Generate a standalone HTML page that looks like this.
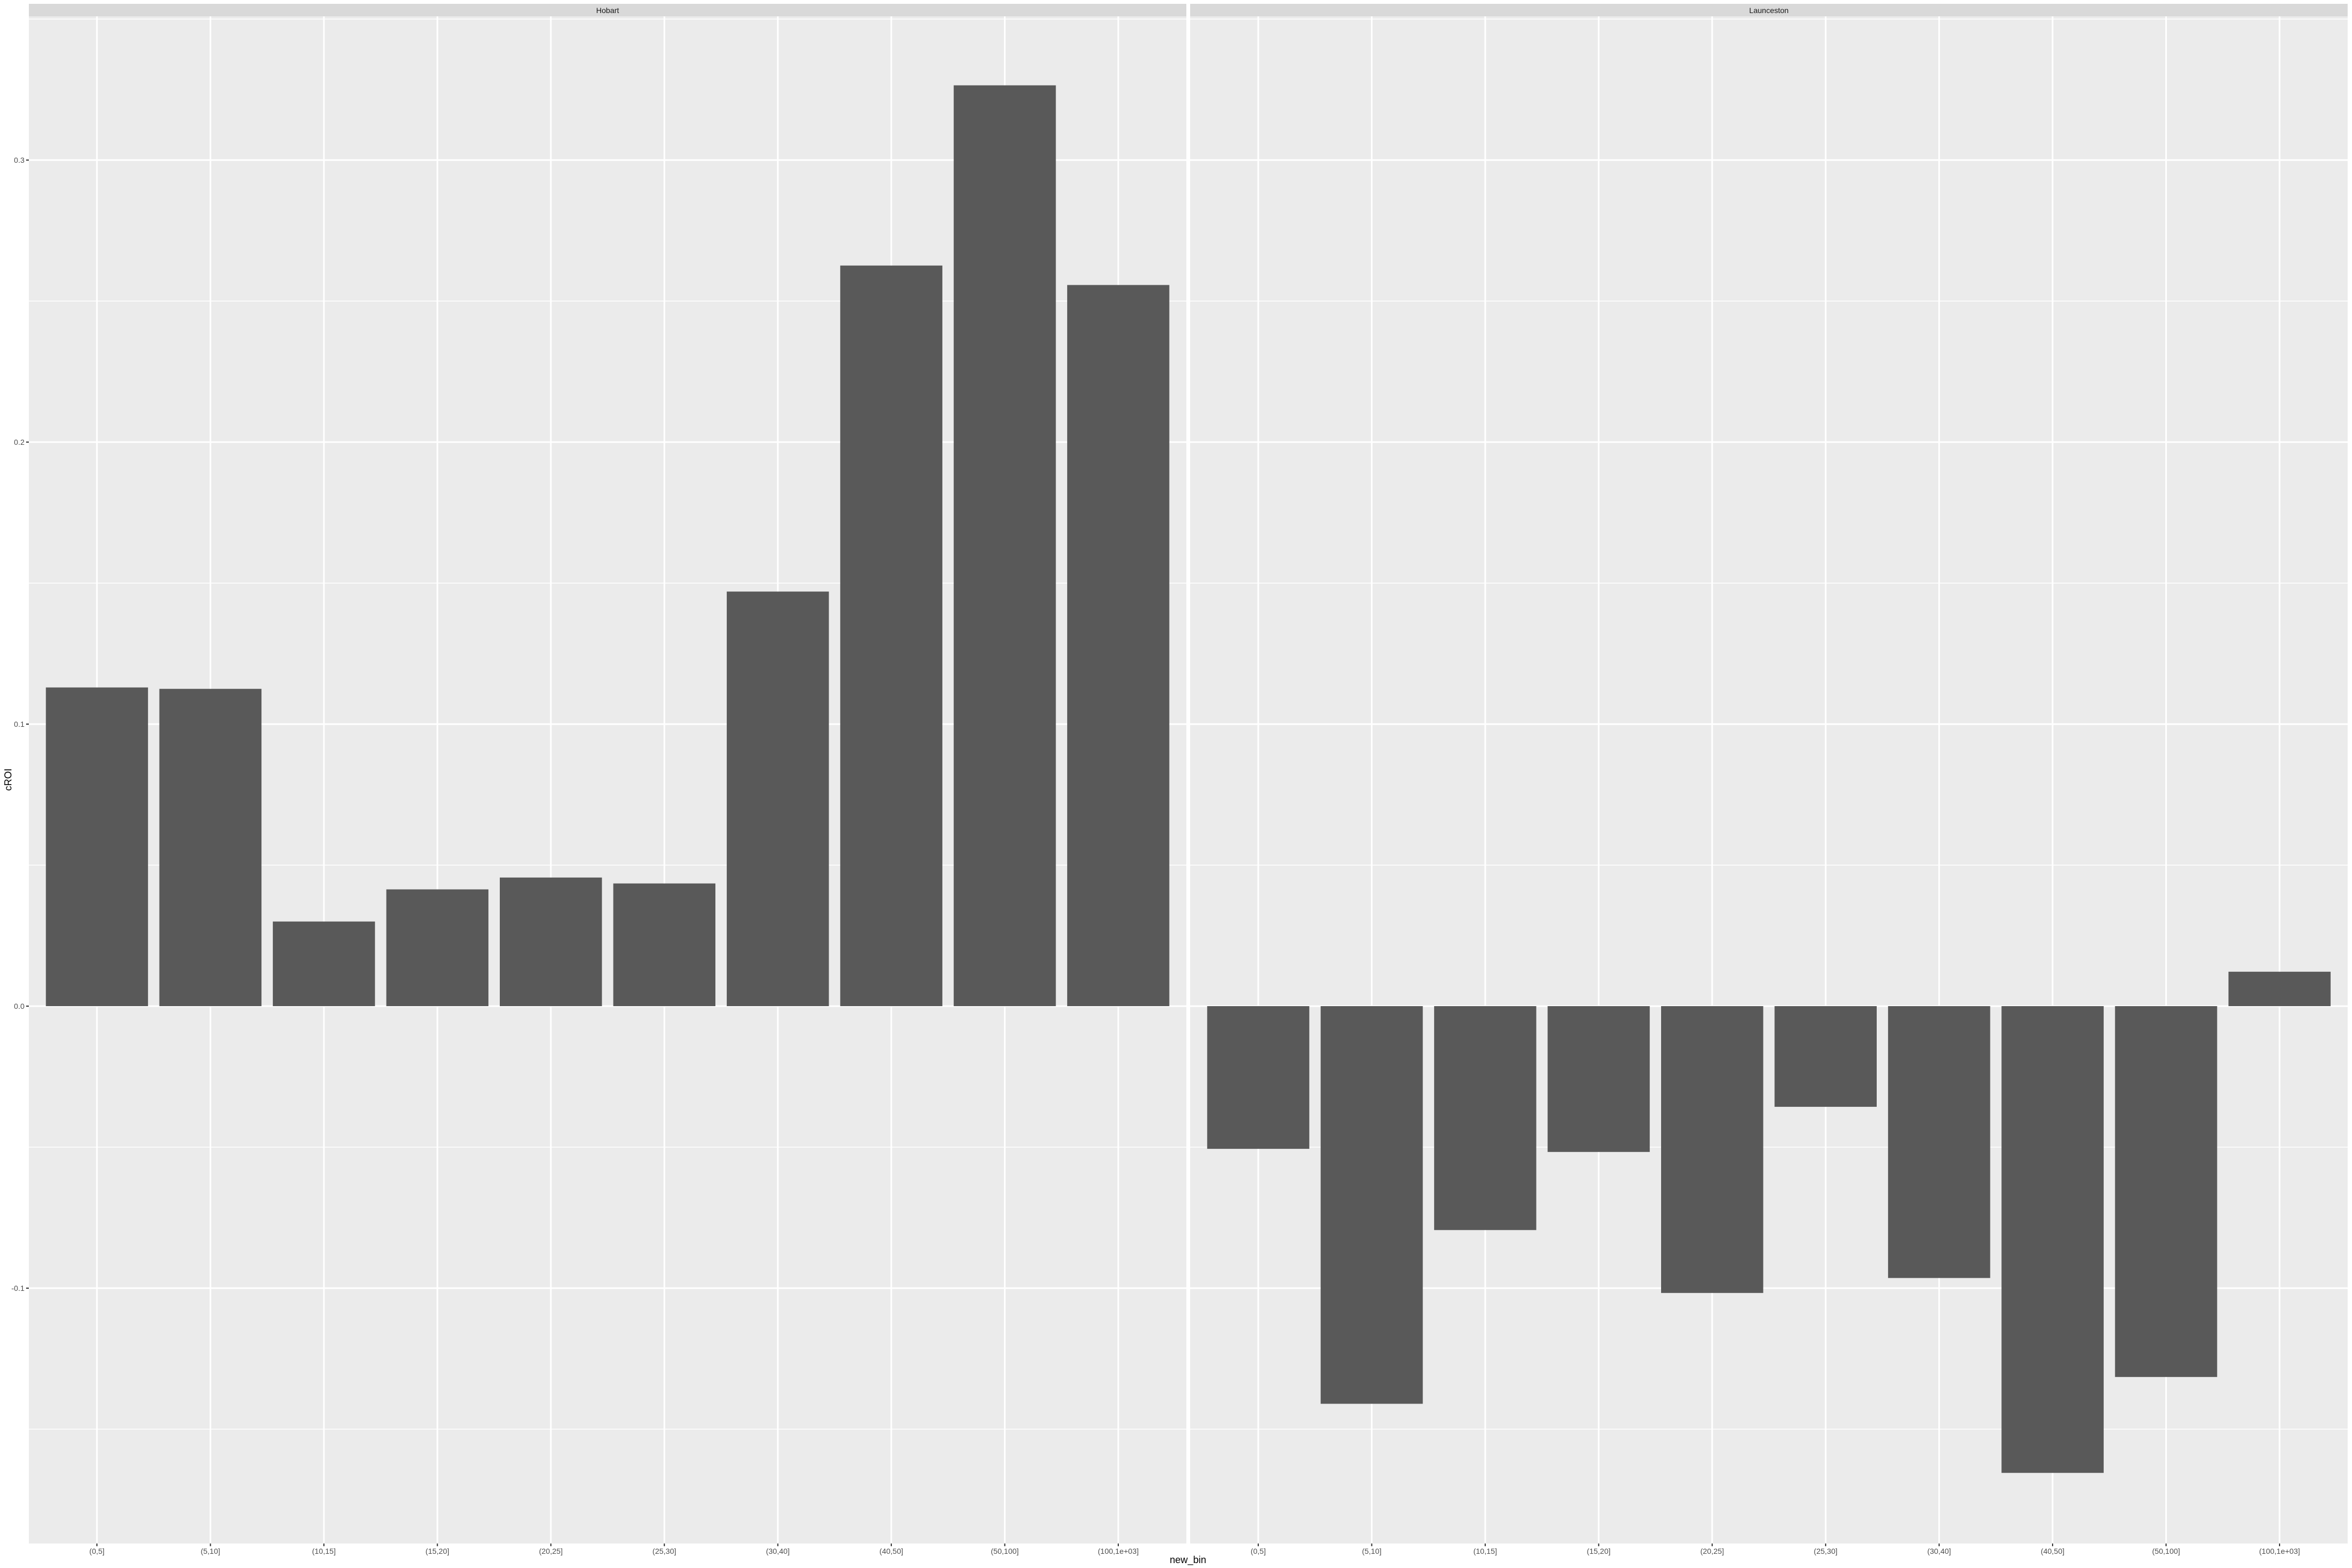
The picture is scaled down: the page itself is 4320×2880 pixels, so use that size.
<!DOCTYPE html>
<html><head><meta charset="utf-8"><style>
html,body{margin:0;padding:0;background:#fff;}
svg{display:block;font-family:"Liberation Sans",Arial,sans-serif;}
</style></head><body>
<svg id="chart" width="4320" height="2880" xmlns="http://www.w3.org/2000/svg"></svg>
<script>
const categories = ["(0,5]","(5,10]","(10,15]","(15,20]","(20,25]","(25,30]","(30,40]","(40,50]","(50,100]","(100,1e+03]"];
const panels = ["Hobart","Launceston"];
const hobartValues = [0.113,0.1125,0.030,0.0414,0.0456,0.0435,0.147,0.2626,0.3265,0.2557];
const launcestonValues = [-0.0506,-0.141,-0.0794,-0.0517,-0.1017,-0.0357,-0.0964,-0.1655,-0.1315,0.0122];
const yTicks = [-0.1,0.0,0.1,0.2,0.3];
const yTickLabels = ["-0.1","0.0","0.1","0.2","0.3"];
const yMinor = [-0.15,-0.05,0.05,0.15,0.25,0.35];

const svg = document.getElementById('chart');
const NS = 'http://www.w3.org/2000/svg';
function mk(tag, attrs, parent){const e=document.createElementNS(NS,tag);for(const k in attrs)e.setAttribute(k,attrs[k]);(parent||svg).appendChild(e);return e;}

const panelTop=30, panelBottom=2835, stripTop=7;
const panelLefts=[53,2186], panelW=2126;
const y0px=1848, pxPerUnit=5180;
function yScale(v){return y0px - v*pxPerUnit;}
const step = panelW/10.2;
function xScale(p,i){return panelLefts[p] + (0.6+i)*step;}
const allValues=[hobartValues,launcestonValues];

panels.forEach((name,p)=>{
  const L=panelLefts[p];
  const bg=mk('rect',{x:L,y:panelTop,width:panelW,height:panelBottom-panelTop,fill:'#EBEBEB'});
  
  
  yMinor.forEach(v=>{const y=yScale(v);if(y<panelTop||y>panelBottom)return;
    const g=mk('line',{x1:L,x2:L+panelW,y1:y,y2:y,stroke:'#fff','stroke-width':1.5});
    
    });
  yTicks.forEach(v=>{const y=yScale(v);
    const g=mk('line',{x1:L,x2:L+panelW,y1:y,y2:y,stroke:'#fff','stroke-width':3});
    
    });
  categories.forEach((c,i)=>{const x=xScale(p,i);
    const g=mk('line',{x1:x,x2:x,y1:panelTop,y2:panelBottom,stroke:'#fff','stroke-width':3});
    
    
    const t=mk('line',{x1:x,x2:x,y1:panelBottom,y2:panelBottom+5,stroke:'#333','stroke-width':2});
    
    
    const lab=mk('text',{x:x,y:panelBottom+19,'font-size':14,fill:'#4D4D4D','text-anchor':'middle'});
    lab.textContent=c;
    
    });
  allValues[p].forEach((v,i)=>{const x=xScale(p,i)-0.45*step;
    const top=Math.min(yScale(v),yScale(0)), h=Math.abs(yScale(v)-yScale(0));
    const b=mk('rect',{x:x,y:top,width:0.9*step,height:h,fill:'#595959'});
    
    });
  const strip=mk('rect',{x:L,y:stripTop,width:panelW,height:panelTop-stripTop,fill:'#D9D9D9'});
  
  
  const st=mk('text',{x:L+panelW/2,y:24,'font-size':14,fill:'#1A1A1A','text-anchor':'middle'});
  st.textContent=name;
  
  
});
yTicks.forEach((v,i)=>{const y=yScale(v);
  const t=mk('line',{x1:48,x2:53,y1:y,y2:y,stroke:'#333','stroke-width':2});
  
  
  const lab=mk('text',{x:45,y:y+5,'font-size':14,fill:'#4D4D4D','text-anchor':'end'});
  lab.textContent=yTickLabels[i];
  
  });
const xt=mk('text',{x:2182,y:2871,'font-size':18,fill:'#000','text-anchor':'middle'});
xt.textContent='new_bin';


const yt=mk('text',{x:0,y:0,'font-size':18,fill:'#000','text-anchor':'middle',transform:'translate(21,1432) rotate(-90)'});
yt.textContent='cROI';


</script>
</body></html>
